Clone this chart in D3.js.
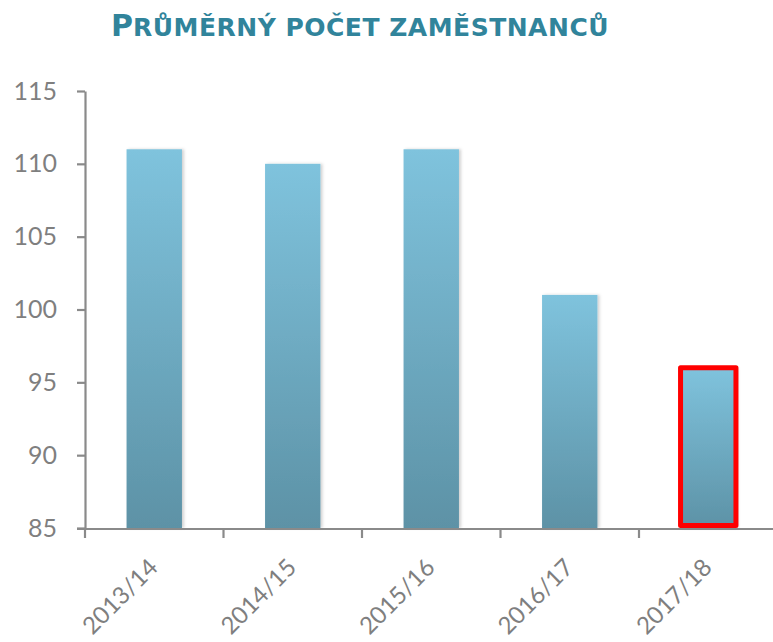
<!DOCTYPE html>
<html>
<head>
<meta charset="utf-8">
<script src="https://cdn.jsdelivr.net/npm/d3@7"></script>
<style>
  html, body { margin: 0; padding: 0; background: #fff; }
  svg { display: block; }
</style>
</head>
<body>
<svg id="chart" width="773" height="642"></svg>
<script>
const titleFirst = "P";
const titleRest = "RŮMĚRNÝ POČET ZAMĚSTNANCŮ";
const categories = ["2013/14", "2014/15", "2015/16", "2016/17", "2017/18"];
const values = [111, 110, 111, 101, 96];
const highlighted = ["2017/18"];
const yTicks = [85, 90, 95, 100, 105, 110, 115];
const yDomain = [85, 115];

(function () {
const svg = d3.select("#chart");
const mLeft = 85, mTop = 91, mBottom = 528, rightEdge = 773;

const defs = svg.append("defs");
const grad = defs.append("linearGradient").attr("id", "barGrad")
  .attr("x1", 0).attr("y1", 0).attr("x2", 0).attr("y2", 1);
grad.append("stop").attr("offset", "0%").attr("stop-color", "#7fc3dd");
grad.append("stop").attr("offset", "100%").attr("stop-color", "#5d92a6");
const sh = defs.append("filter").attr("id", "shadow")
  .attr("x", "-20%").attr("y", "-5%").attr("width", "140%").attr("height", "110%");
sh.append("feDropShadow").attr("dx", 2).attr("dy", 0).attr("stdDeviation", 1.8)
  .attr("flood-color", "#000").attr("flood-opacity", 0.18);

const x = d3.scaleBand().domain(categories)
  .range([mLeft, mLeft + 138.5 * categories.length])
  .paddingInner(0.6).paddingOuter(0.3);
const y = d3.scaleLinear().domain(yDomain).range([mBottom, mTop]);

// Title
const title = svg.append("text")
  .attr("x", 360).attr("y", 36)
  .attr("text-anchor", "middle")
  .attr("font-family", "'DejaVu Sans', Verdana, sans-serif")
  .attr("font-weight", "bold")
  .attr("fill", "#31849b");
title.append("tspan").attr("font-size", 30).text(titleFirst);
title.append("tspan").attr("font-size", 25).attr("letter-spacing", 0.5).text(titleRest);

// Bars
svg.append("g").selectAll("rect")
  .data(categories)
  .join("rect")
  .attr("x", d => x(d))
  .attr("width", x.bandwidth())
  .attr("y", (d, i) => y(values[i]))
  .attr("height", (d, i) => y(yDomain[0]) - y(values[i]))
  .attr("fill", "url(#barGrad)")
  .attr("filter", "url(#shadow)");

// Highlight border
const sw = 5;
svg.append("g").selectAll("rect")
  .data(categories.filter(c => highlighted.includes(c)))
  .join("rect")
  .attr("x", d => x(d))
  .attr("width", x.bandwidth())
  .attr("y", d => y(values[categories.indexOf(d)]))
  .attr("height", d => y(yDomain[0]) - y(values[categories.indexOf(d)]) - sw / 2)
  .attr("fill", "none")
  .attr("stroke", "#ff0000")
  .attr("stroke-width", sw)
  .attr("stroke-linejoin", "round");

// Y axis
const axisColor = "#8a8a8a";
const yAxis = svg.append("g").attr("transform", `translate(${mLeft},0)`)
  .call(d3.axisLeft(y).tickValues(yTicks).tickSize(8).tickPadding(20).tickSizeOuter(0));
yAxis.select(".domain").attr("stroke", axisColor).attr("stroke-width", 2.2);
yAxis.selectAll(".tick line").attr("stroke", axisColor).attr("stroke-width", 2.2);
yAxis.selectAll(".tick text")
  .attr("font-family", "Lato, 'Open Sans', sans-serif")
  .attr("font-size", 25).attr("fill", "#7f7f7f");

// X axis
const xg = svg.append("g");
xg.append("line")
  .attr("x1", mLeft - 8).attr("x2", rightEdge)
  .attr("y1", mBottom + 1).attr("y2", mBottom + 1)
  .attr("stroke", axisColor).attr("stroke-width", 2.2);
const boundaries = d3.range(categories.length + 1).map(i => x.range()[0] + i * x.step());
xg.selectAll("line.tick").data(boundaries).join("line").attr("class", "tick")
  .attr("x1", d => d).attr("x2", d => d)
  .attr("y1", mBottom).attr("y2", mBottom + 10)
  .attr("stroke", axisColor).attr("stroke-width", 2.2);
xg.selectAll("text").data(categories).join("text")
  .attr("transform", d => `translate(${x(d) + x.bandwidth() / 2 + 5},${mBottom + 41}) rotate(-45)`)
  .attr("text-anchor", "end")
  .attr("font-family", "Lato, 'Open Sans', sans-serif")
  .attr("font-size", 24).attr("fill", "#7f7f7f")
  .text(d => d);
})();
</script>
</body>
</html>
